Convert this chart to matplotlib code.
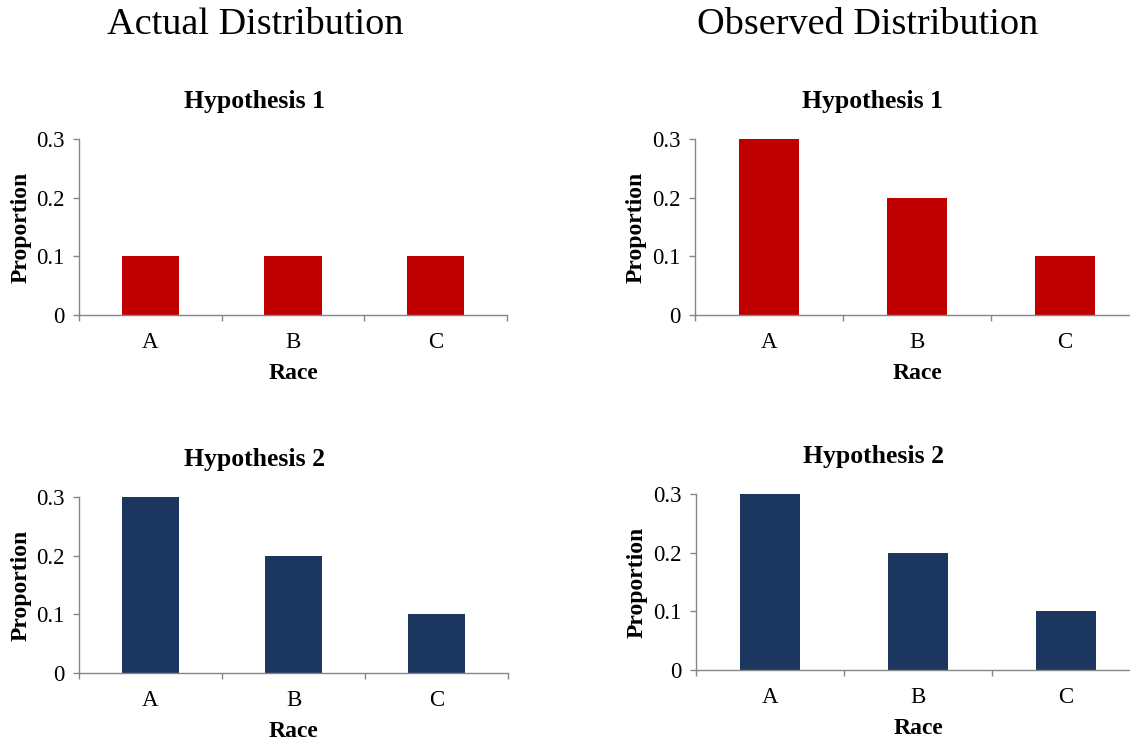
import matplotlib
matplotlib.use("Agg")
import matplotlib.pyplot as plt
from matplotlib.ticker import FixedLocator

# --- data ---
RACES = ["A", "B", "C"]
ACTUAL_H1 = [0.1, 0.1, 0.1]
ACTUAL_H2 = [0.3, 0.2, 0.1]
OBSERVED_H1 = [0.3, 0.2, 0.1]
OBSERVED_H2 = [0.3, 0.2, 0.1]
Y_TICKS = [0, 0.1, 0.2, 0.3]
Y_TICK_LABELS = ["0", "0.1", "0.2", "0.3"]

RED = "#C00000"
NAVY = "#1B375F"
AXIS_GREY = "#868686"

plt.rcParams.update({
    "font.family": ["Liberation Serif", "DejaVu Serif"],
    "axes.spines.top": False,
    "axes.spines.right": False,
})

W, H = 1130, 742
fig = plt.figure(figsize=(W / 100, H / 100), dpi=100)


def px_axes(left, top, right, bottom):
    """Axes from pixel edges (origin top-left)."""
    return fig.add_axes([left / W, 1 - bottom / H, (right - left) / W, (bottom - top) / H])


def draw_panel(ax, values, color, title, title_x):
    x = range(len(RACES))
    ax.bar(x, values, width=0.4, color=color, edgecolor="none")
    ax.set_xlim(-0.5, len(RACES) - 0.5)
    ax.set_ylim(0, 0.3)

    ax.set_yticks(Y_TICKS)
    ax.set_yticklabels(Y_TICK_LABELS, fontsize=16.5)
    ax.set_xticks(list(x))
    ax.set_xticklabels(RACES, fontsize=16.5)
    ax.xaxis.set_minor_locator(FixedLocator([i - 0.5 for i in range(len(RACES) + 1)]))

    ax.tick_params(axis="x", which="major", length=0, pad=12)
    ax.tick_params(axis="x", which="minor", length=4.5, width=1, color=AXIS_GREY, direction="out")
    ax.tick_params(axis="y", length=4.5, width=1, color=AXIS_GREY, direction="out", pad=6)
    for side in ("left", "bottom"):
        ax.spines[side].set_color(AXIS_GREY)
        ax.spines[side].set_linewidth(1.0)

    ax.set_xlabel("Race", fontsize=17, fontweight="bold")
    ax.xaxis.set_label_coords(0.5, -0.272)
    ax.set_ylabel("Proportion", fontsize=17, fontweight="bold")
    ax.yaxis.set_label_coords(-0.11, 0.5)

    ax.text(title_x, 1.215, title, transform=ax.transAxes, ha="center", va="center",
            fontsize=18.5, fontweight="bold")


ax_tl = px_axes(79, 139, 507, 315)
ax_tr = px_axes(695, 139, 1139, 315)
ax_bl = px_axes(79, 497, 508, 673)
ax_br = px_axes(696, 494, 1140, 670)

draw_panel(ax_tl, ACTUAL_H1, RED, "Hypothesis 1", 0.41)
draw_panel(ax_bl, ACTUAL_H2, NAVY, "Hypothesis 2", 0.41)
draw_panel(ax_tr, OBSERVED_H1, RED, "Hypothesis 1", 0.40)
draw_panel(ax_br, OBSERVED_H2, NAVY, "Hypothesis 2", 0.40)

fig.text(255 / W, 1 - 25 / H, "Actual Distribution", ha="center", va="center", fontsize=27.5)
fig.text(868 / W, 1 - 25 / H, "Observed Distribution", ha="center", va="center", fontsize=27.5)

fig.savefig("out.png", dpi=100)
